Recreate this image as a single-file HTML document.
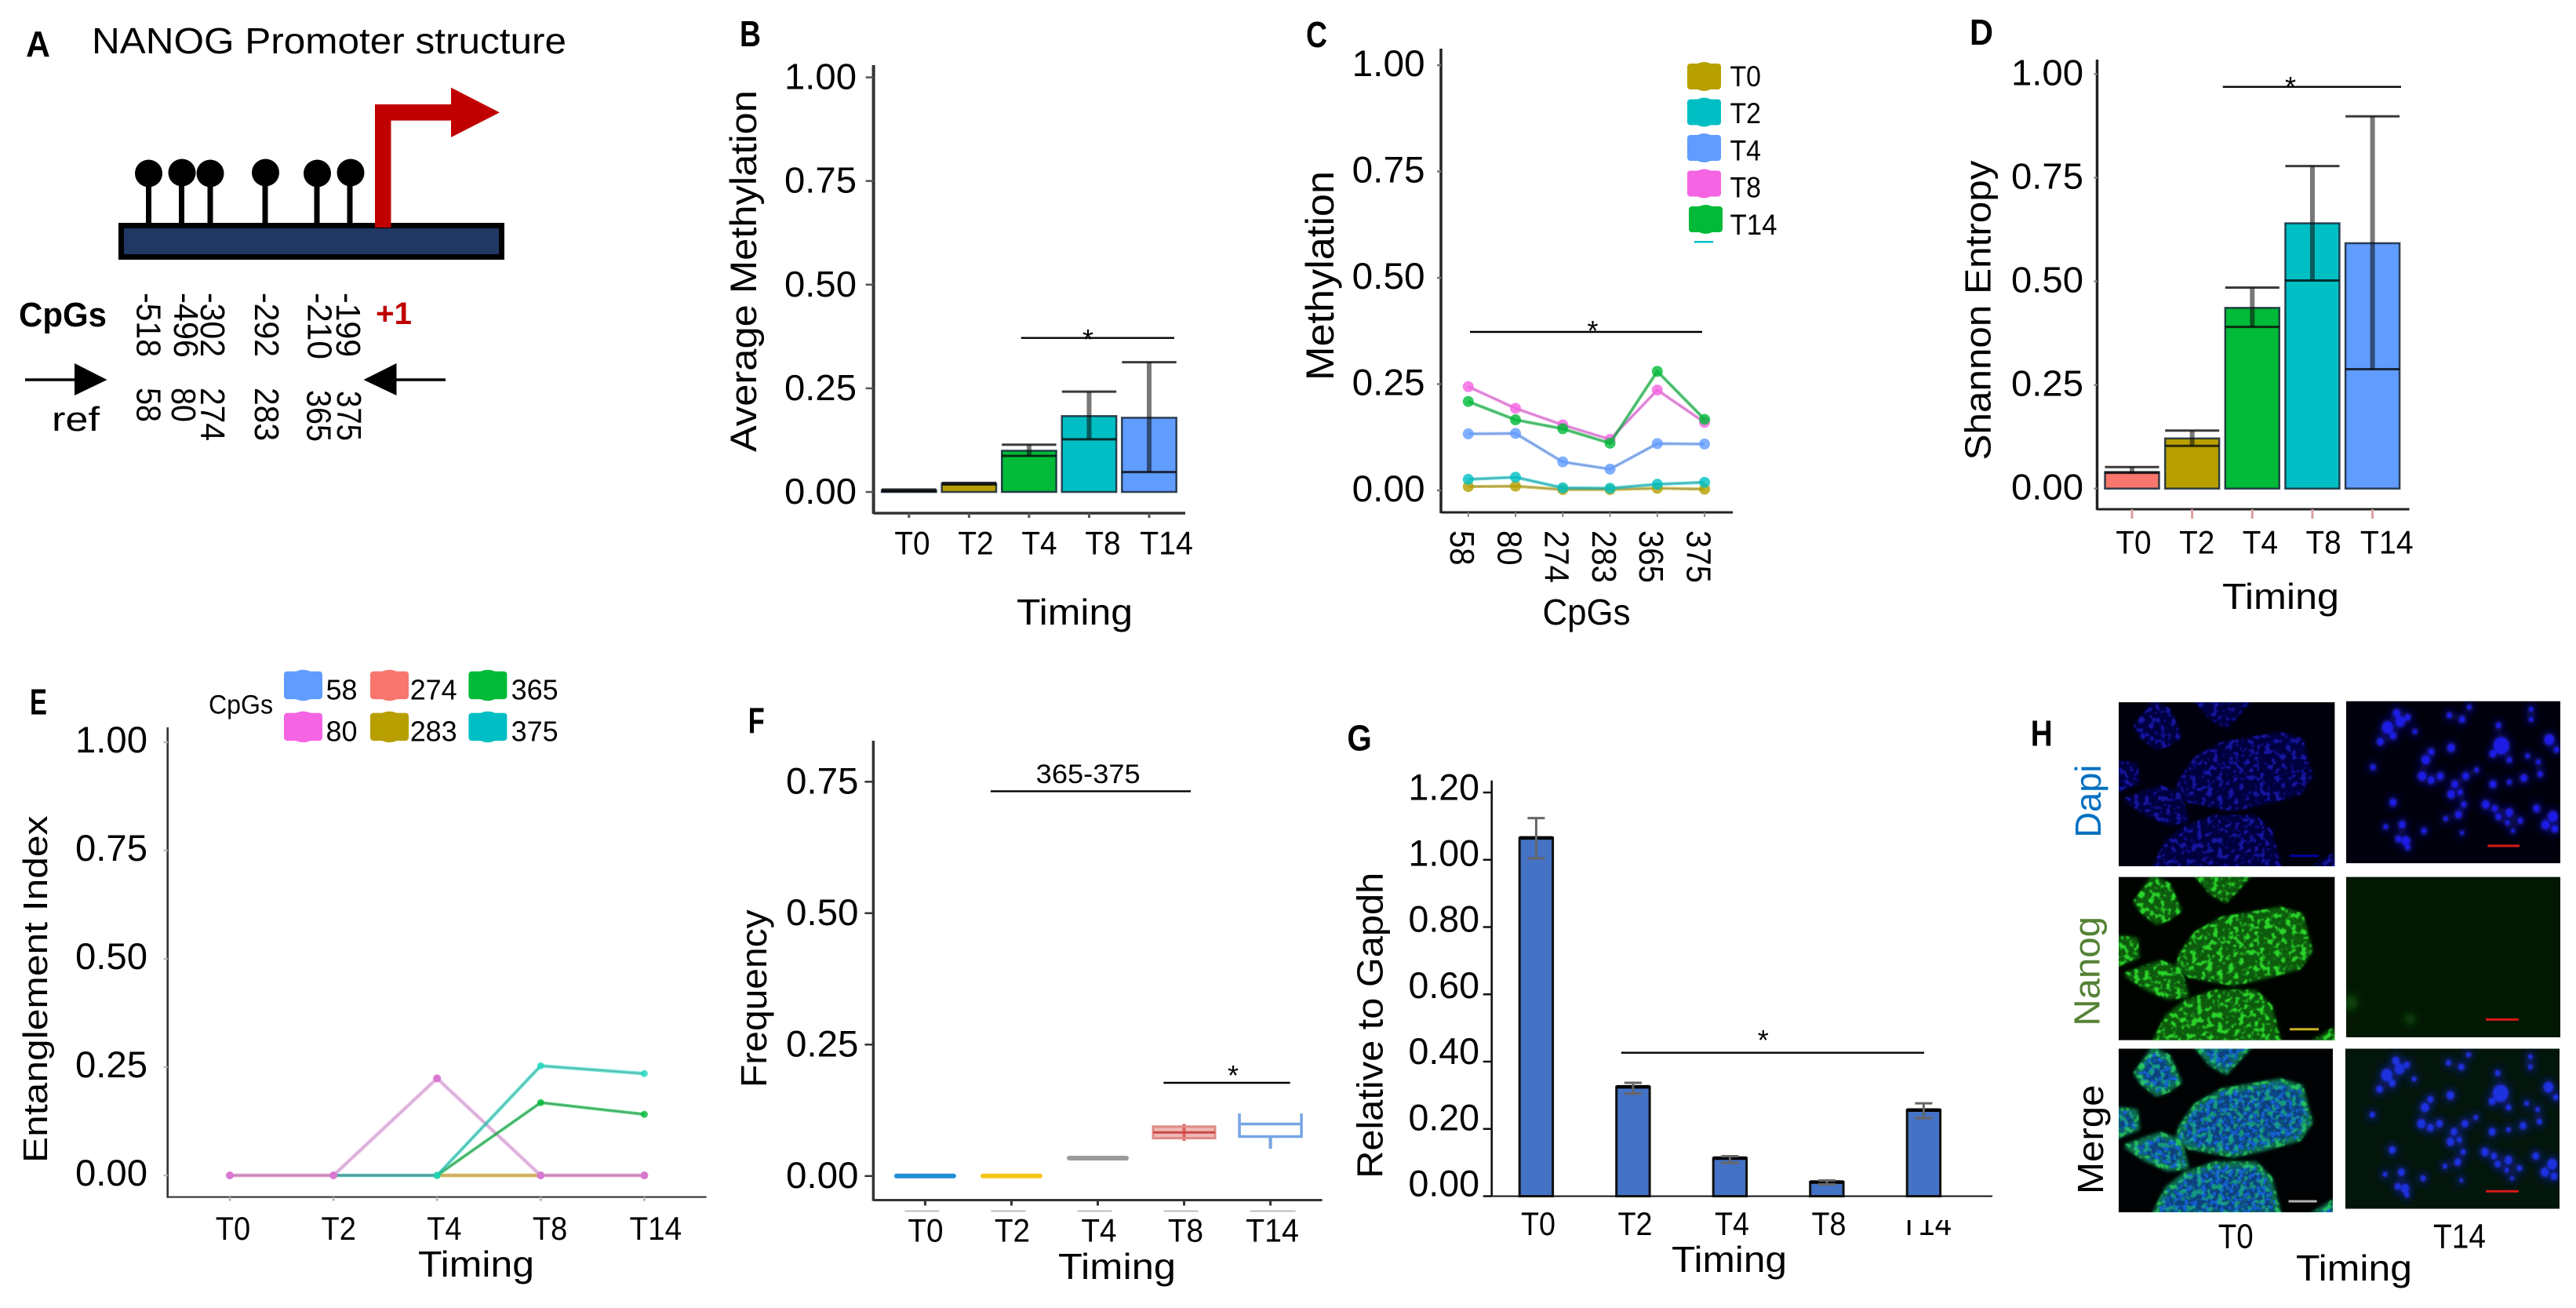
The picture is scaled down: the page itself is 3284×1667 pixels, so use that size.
<!DOCTYPE html>
<html lang="en">
<head>
<meta charset="utf-8">
<title>NANOG promoter methylation figure</title>
<style>
html,body{margin:0;padding:0;background:#fff;width:3284px;height:1667px;overflow:hidden}
svg{display:block}
text{font-family:"Liberation Sans",sans-serif;fill:#000}
.pl{font-weight:bold;font-size:46px}
</style>
</head>
<body>
<svg id="fig" xmlns="http://www.w3.org/2000/svg" width="3284" height="1667" viewBox="0 0 3284 1667">
<defs>
  <filter id="cells" filterUnits="userSpaceOnUse" x="-10" y="-10" width="320" height="250">
    <feTurbulence type="fractalNoise" baseFrequency="0.15" numOctaves="2" seed="4" result="n"/>
    <feColorMatrix in="n" type="matrix" values="0 0 0 0 0  0 0 0 0 0  0 0 0 0 0  8 0 0 0 -4.1" result="m"/>
    <feComposite in="SourceGraphic" in2="m" operator="in" result="c"/>
    <feGaussianBlur in="c" stdDeviation="0.7"/>
  </filter>
  <filter id="cells2" filterUnits="userSpaceOnUse" x="-10" y="-10" width="320" height="250">
    <feTurbulence type="fractalNoise" baseFrequency="0.17" numOctaves="2" seed="9" result="n"/>
    <feColorMatrix in="n" type="matrix" values="0 0 0 0 0  0 0 0 0 0  0 0 0 0 0  8 0 0 0 -3.9" result="m"/>
    <feComposite in="SourceGraphic" in2="m" operator="in" result="c"/>
    <feGaussianBlur in="c" stdDeviation="0.6"/>
  </filter>
  <filter id="edge" filterUnits="userSpaceOnUse" x="-10" y="-10" width="320" height="250"><feGaussianBlur stdDeviation="2"/></filter>
  <filter id="soft" x="-5%" y="-5%" width="110%" height="110%"><feGaussianBlur stdDeviation="2.2"/></filter>
  <filter id="haze" x="-5%" y="-5%" width="110%" height="110%"><feGaussianBlur stdDeviation="9"/></filter>
  <filter id="glow" x="-100%" y="-100%" width="300%" height="300%"><feGaussianBlur stdDeviation="5"/></filter>
  <path id="colonies" stroke-linejoin="round" stroke-width="8" d="M23 31.5L44 2L62.5 11L76.4 42L62.5 52L48.6 57L30 42ZM99.6 -4L166.7 -4L136.6 29L118 18.6ZM-4 78L21 80.5L23 101L-4 111.5ZM81 98.6L99.6 72.8L132 54.7L206 41.8L231.7 49.6L243.3 93.5L229.4 114L183 127L146 134.8L90.3 124.5L76.4 114ZM11.6 124.4L53.3 110L76.4 119L85.7 150L62.5 152.5L34.7 139.9ZM46 212L62.5 178.6L85.7 160.6L122.8 147.7L173.7 147.7L192 165.7L204 212ZM248 212L273 196.7L280 212Z"/>
  <clipPath id="clip-g-t14"><rect x="2420" y="1555" width="90" height="40"/></clipPath>
</defs>

<!-- Panel A -->
<g id="panel-a">
  <text class="pl" x="33" y="72" textLength="31" lengthAdjust="spacingAndGlyphs">A</text>
  <text x="117" y="68" font-size="46" textLength="605" lengthAdjust="spacingAndGlyphs">NANOG Promoter structure</text>
  <g>
    <g stroke="#000" stroke-width="7">
      <line x1="189.5" y1="225" x2="189.5" y2="286"/>
      <line x1="231.5" y1="225" x2="231.5" y2="286"/>
      <line x1="268" y1="225" x2="268" y2="286"/>
      <line x1="338" y1="225" x2="338" y2="286"/>
      <line x1="404" y1="225" x2="404" y2="286"/>
      <line x1="446" y1="225" x2="446" y2="286"/>
    </g>
    <circle cx="189.5" cy="221" r="17.5"/>
    <circle cx="232" cy="220" r="17.5"/>
    <circle cx="268" cy="221" r="17.5"/>
    <circle cx="338.5" cy="220" r="17.5"/>
    <circle cx="404.5" cy="221" r="17.5"/>
    <circle cx="447" cy="220" r="17.5"/>
  </g>
  <rect x="154.5" y="287.5" width="485" height="40" fill="#1f3864" stroke="#000" stroke-width="7"/>
  <path d="M478 290V133H575V111.6L637 143.4L575 175V153.6H498.5V290Z" fill="#c00000"/>
  <text x="24" y="416" font-size="44" font-weight="bold" textLength="112" lengthAdjust="spacingAndGlyphs">CpGs</text>
  <text x="479" y="413" font-size="40" font-weight="bold" style="fill:#c00000" textLength="46" lengthAdjust="spacingAndGlyphs">+1</text>
  <g font-size="44">
    <text transform="translate(174.5,373) rotate(90)" textLength="82" lengthAdjust="spacingAndGlyphs">-518</text>
    <text transform="translate(222,373) rotate(90)" textLength="83" lengthAdjust="spacingAndGlyphs">-496</text>
    <text transform="translate(256,373) rotate(90)" textLength="82" lengthAdjust="spacingAndGlyphs">-302</text>
    <text transform="translate(325,373) rotate(90)" textLength="82" lengthAdjust="spacingAndGlyphs">-292</text>
    <text transform="translate(392.6,373) rotate(90)" textLength="85" lengthAdjust="spacingAndGlyphs">-210</text>
    <text transform="translate(429,373) rotate(90)" textLength="82" lengthAdjust="spacingAndGlyphs">-199</text>
  </g>
  <g font-size="44">
    <text transform="translate(174.5,494) rotate(90)" textLength="44" lengthAdjust="spacingAndGlyphs">58</text>
    <text transform="translate(219,494) rotate(90)" textLength="44" lengthAdjust="spacingAndGlyphs">80</text>
    <text transform="translate(256,494) rotate(90)" textLength="68" lengthAdjust="spacingAndGlyphs">274</text>
    <text transform="translate(325,494) rotate(90)" textLength="68" lengthAdjust="spacingAndGlyphs">283</text>
    <text transform="translate(391.5,497) rotate(90)" textLength="66" lengthAdjust="spacingAndGlyphs">365</text>
    <text transform="translate(430,498) rotate(90)" textLength="64" lengthAdjust="spacingAndGlyphs">375</text>
  </g>
  <path d="M32 482.2H95V463L136.5 484L95 504V485.8H32Z"/>
  <path d="M568 482.2H505.5V463L463.5 484L505.5 504V485.8H568Z"/>
  <text x="66" y="549" font-size="44" textLength="61" lengthAdjust="spacingAndGlyphs">ref</text>
</g>

<!-- Panel labels and titles for charts -->
<text class="pl" x="943" y="59" textLength="27" lengthAdjust="spacingAndGlyphs">B</text>
<text transform="translate(964,576) rotate(-90)" font-size="47" textLength="461" lengthAdjust="spacingAndGlyphs">Average Methylation</text>
<text x="1296" y="796" font-size="46" textLength="148" lengthAdjust="spacingAndGlyphs">Timing</text>

<text class="pl" x="1665" y="60" textLength="27" lengthAdjust="spacingAndGlyphs">C</text>
<text transform="translate(1700,485) rotate(-90)" font-size="50" textLength="267" lengthAdjust="spacingAndGlyphs">Methylation</text>
<text x="1966.5" y="796" font-size="46" textLength="112" lengthAdjust="spacingAndGlyphs">CpGs</text>

<text class="pl" x="2511" y="57" textLength="30" lengthAdjust="spacingAndGlyphs">D</text>
<text transform="translate(2537.5,586.5) rotate(-90)" font-size="46" textLength="382" lengthAdjust="spacingAndGlyphs">Shannon Entropy</text>
<text x="2833" y="776" font-size="46" textLength="149" lengthAdjust="spacingAndGlyphs">Timing</text>

<text class="pl" x="38" y="910.5" textLength="22" lengthAdjust="spacingAndGlyphs">E</text>
<text transform="translate(60,1482) rotate(-90)" font-size="44" textLength="442.5" lengthAdjust="spacingAndGlyphs">Entanglement Index</text>
<text x="533" y="1627" font-size="46" textLength="148" lengthAdjust="spacingAndGlyphs">Timing</text>
<text x="266" y="909.4" font-size="34" textLength="82" lengthAdjust="spacingAndGlyphs">CpGs</text>

<text class="pl" x="953.7" y="934" textLength="21" lengthAdjust="spacingAndGlyphs">F</text>
<text transform="translate(976.8,1386) rotate(-90)" font-size="46" textLength="226.6" lengthAdjust="spacingAndGlyphs">Frequency</text>
<text x="1349" y="1630" font-size="46" textLength="150" lengthAdjust="spacingAndGlyphs">Timing</text>
<text x="1320.7" y="998" font-size="34" textLength="133" lengthAdjust="spacingAndGlyphs">365-375</text>

<text class="pl" x="1717.4" y="956.5" textLength="31.4" lengthAdjust="spacingAndGlyphs">G</text>
<text transform="translate(1762.5,1501.8) rotate(-90)" font-size="46" textLength="390" lengthAdjust="spacingAndGlyphs">Relative to Gapdh</text>
<text x="2131" y="1621" font-size="46" textLength="147" lengthAdjust="spacingAndGlyphs">Timing</text>

<!-- Panel H -->
<g id="panel-h">
  <text class="pl" x="2588.7" y="950.4" textLength="28" lengthAdjust="spacingAndGlyphs">H</text>

  <svg x="2701" y="895" width="275.4" height="209">
    <rect width="276" height="209" fill="#00000c"/>
    <use href="#colonies" fill="#04043c" stroke="#04043c" filter="url(#edge)"/>
    <use href="#colonies" fill="#1212a0" stroke="#1212a0" filter="url(#cells)"/>
  </svg>
  <svg x="2701" y="1117.6" width="275.4" height="208">
    <rect width="276" height="209" fill="#000300"/>
    <use href="#colonies" fill="#0a5a0a" stroke="#0a5a0a" filter="url(#edge)"/>
    <use href="#colonies" fill="#2ad62a" stroke="#2ad62a" filter="url(#cells)"/>
  </svg>
  <svg x="2701" y="1336.5" width="273" height="208.5">
    <rect width="276" height="209" fill="#000203"/>
    <use href="#colonies" fill="#0b3f7c" stroke="#0e7050" filter="url(#edge)"/>
    <use href="#colonies" fill="#1460d4" stroke="none" filter="url(#cells2)"/>
    <use href="#colonies" fill="#18b07a" stroke="#2ad860" filter="url(#cells)" opacity=".8"/>
  </svg>

  <svg x="2991" y="893.6" width="273" height="206.5">
    <rect width="274" height="208" fill="#00000c"/>
    <g transform="scale(.4632,.5163) translate(-931,-65)">
      <path class="nuclei" fill="#0a0a70" stroke="#0a0a70" stroke-width="16" filter="url(#haze)"/>
      <path class="nuclei" fill="#1f1fe6" stroke="#1f1fe6" stroke-width="3" filter="url(#soft)"/>
    </g>
  </svg>
  <svg x="2991" y="1117.6" width="273" height="204.4">
    <rect width="274" height="206" fill="#031803"/>
    <circle cx="5" cy="160" r="10" fill="#0c4a0c" filter="url(#glow)"/>
    <circle cx="81" cy="181" r="7" fill="#0c4a0c" filter="url(#glow)"/>
  </svg>
  <svg x="2990" y="1336.5" width="273" height="204">
    <rect width="274" height="206" fill="#03160c"/>
    <g transform="scale(.4632,.5163) translate(-931,-65)">
      <path class="nuclei" fill="#0a1a70" stroke="#0a1a70" stroke-width="16" filter="url(#haze)"/>
      <path class="nuclei" fill="#1c30e0" stroke="#1c30e0" stroke-width="3" filter="url(#soft)"/>
    </g>
  </svg>

  <g stroke-width="3">
    <line x1="2919" y1="1090.8" x2="2956" y2="1090.8" stroke="#0000a0"/>
    <line x1="2919" y1="1311.8" x2="2956" y2="1311.8" stroke="#c8b020"/>
    <line x1="2917.6" y1="1531" x2="2953.7" y2="1531" stroke="#b4b4b4"/>
    <line x1="3171.4" y1="1078" x2="3212" y2="1078" stroke="#d81818"/>
    <line x1="3169" y1="1299.4" x2="3210.8" y2="1299.4" stroke="#d81818"/>
    <line x1="3169" y1="1518.3" x2="3210.8" y2="1518.3" stroke="#d81818"/>
  </g>

  <text transform="translate(2678,1067.6) rotate(-90)" font-size="46" style="fill:#0070c0" textLength="93" lengthAdjust="spacingAndGlyphs">Dapi</text>
  <text transform="translate(2676.7,1307.6) rotate(-90)" font-size="46" style="fill:#548235" textLength="139.6" lengthAdjust="spacingAndGlyphs">Nanog</text>
  <text transform="translate(2681,1522) rotate(-90)" font-size="46" textLength="139.5" lengthAdjust="spacingAndGlyphs">Merge</text>
  <text x="2827.7" y="1590.6" font-size="44" textLength="45" lengthAdjust="spacingAndGlyphs">T0</text>
  <text x="3102" y="1590.6" font-size="44" textLength="67" lengthAdjust="spacingAndGlyphs">T14</text>
  <text x="2927" y="1632" font-size="46" textLength="148" lengthAdjust="spacingAndGlyphs">Timing</text>
</g>
</svg>

<script>
// ---- Chart data ----
const timing = ['T0', 'T2', 'T4', 'T8', 'T14'];
const cpgs = ['58', '80', '274', '283', '365', '375'];
const ticksUnit = [0, 0.25, 0.5, 0.75, 1];
const ticksFreq = [0, 0.25, 0.5, 0.75];
const ticksGapdh = [0, 0.2, 0.4, 0.6, 0.8, 1, 1.2];

// Panel B: average methylation
const barB = [0.004, 0.02, 0.0995, 0.183, 0.179];
const upperB = [0.006, 0.022, 0.114, 0.242, 0.313];
const lowerB = [0.002, 0.018, 0.087, 0.127, 0.048];

// Panel C: methylation by CpG
const methT0 = [0.009, 0.01, 0.002, 0.002, 0.005, 0.003];
const methT2 = [0.026, 0.031, 0.006, 0.005, 0.0145, 0.019];
const methT4 = [0.133, 0.134, 0.067, 0.05, 0.11, 0.109];
const methT8 = [0.244, 0.193, 0.154, 0.12, 0.236, 0.16];
const methT14 = [0.209, 0.166, 0.145, 0.111, 0.28, 0.167];

// Panel D: Shannon entropy
const barD = [0.04, 0.121, 0.436, 0.64, 0.592];
const upperD = [0.052, 0.14, 0.485, 0.778, 0.898];
const lowerD = [0.038, 0.103, 0.39, 0.502, 0.288];

// Panel E: entanglement index
const ent58 = [0, 0, 0, 0, 0];
const ent274 = [0, 0, 0, 0, 0];
const ent80 = [0, 0, 0.224, 0, 0];
const ent283 = [null, null, 0, 0, null];
const ent365 = [null, null, 0, 0.168, 0.141];
const ent375 = [null, 0, 0, 0.253, 0.235];

// Panel F: frequency boxes
const boxMedianF = [0, 0, 0.034, 0.083, 0.099];
const boxLowF = [0, 0, 0.034, 0.072, 0.075];
const boxHighF = [0, 0, 0.034, 0.094, 0.119];
const whiskerLowF = [0, 0, 0.034, 0.067, 0.052];
const whiskerHighF = [0, 0, 0.034, 0.099, 0.119];

// Panel G: relative expression
const barG = [1.065, 0.325, 0.113, 0.042, 0.256];
const upperG = [1.124, 0.337, 0.119, 0.047, 0.276];
const lowerG = [1.004, 0.305, 0.099, 0.035, 0.232];

// ---- Drawing helpers ----
const NS = 'http://www.w3.org/2000/svg';
const fig = document.getElementById('fig');
const OLIVE = '#b79f00', TEAL = '#00bfc4', BLUE = '#619cff', PINK = '#f564e3', GREEN = '#00ba38', SALMON = '#f8766d';

function mk(tag, parent, props, name) {
  const el = document.createElementNS(NS, tag);
  for (const k in props) el.setAttribute(k, props[k]);
  
  
  parent.appendChild(el);
  return el;
}
function label(parent, str, x, y, size, len, name) {
  const t = mk('text', parent, { x: x, y: y, 'font-size': size, textLength: len, lengthAdjust: 'spacingAndGlyphs' }, name);
  t.textContent = str;
  return t;
}
function yOf(p, v) { return p.y0 - v * p.ySpan; }
function xOf(p, i) { return p.x0 + i * p.step; }

function axes(p, ticks) {
  const g = mk('g', fig, {}, 'axes-' + p.id);
  mk('line', g, { x1: p.axisX, y1: p.axisTop, x2: p.axisX, y2: p.axisY + 1, stroke: p.axisColor, 'stroke-width': p.axisW }, 'y-axis-' + p.id);
  mk('line', g, { x1: p.axisX, y1: p.axisY, x2: p.axisRight, y2: p.axisY, stroke: p.axisColor, 'stroke-width': p.axisW - 0.5 }, 'x-axis-' + p.id);
  ticks.forEach(function (v) {
    const y = yOf(p, v);
    mk('line', g, { x1: p.axisX - p.tickLen, y1: y, x2: p.axisX, y2: y, stroke: p.tickColor, 'stroke-width': 2.5 }, 'y-tick-' + p.id);
    const ly = p.labelSpan ? p.labelY0 - v * p.labelSpan : y + p.labelOff;
    label(g, v.toFixed(2), p.labelRight - p.labelW, ly, p.labelSize, p.labelW, 'y-tick-label-' + p.id);
  });
}
function xLabels(p, names) {
  const g = mk('g', fig, {}, 'x-labels-' + p.id);
  names.forEach(function (s, i) {
    const w = p.charW * s.length;
    const t = label(g, s, p.lblX0 + i * p.lblStep - w / 2, p.lblY, p.lblSize, w, 'x-tick-label-' + p.id);
    if (p.id === 'g' && s === 'T14') t.setAttribute('clip-path', 'url(#clip-g-t14)');
    if (p.tickDown) {
      const x = xOf(p, i);
      mk('line', g, { x1: x, y1: p.axisY, x2: x, y2: p.axisY + p.tickDown, stroke: p.tickDownColor || p.tickColor, 'stroke-width': 3 }, 'x-tick-' + p.id);
    }
  });
}
function sig(x1, x2, y, starX, starY) {
  const g = mk('g', fig, {}, 'significance-bracket');
  mk('line', g, { x1: x1, y1: y, x2: x2, y2: y, stroke: '#000', 'stroke-width': 2.4 }, 'significance-line');
  if (starX !== null) {
    const t = mk('text', g, { x: starX, y: starY + 20, 'font-size': 36, 'text-anchor': 'middle' }, 'significance-star');
    t.textContent = '*';
  }
}
function ggBars(p, vals, up, lo, cols) {
  const g = mk('g', fig, {}, 'bars-' + p.id);
  vals.forEach(function (v, i) {
    const x = xOf(p, i) - p.barW / 2, top = yOf(p, v), base = yOf(p, 0);
    mk('rect', g, { x: x, y: top, width: p.barW, height: Math.max(base - top, 1), fill: cols[i], stroke: 'rgba(20,40,55,.85)', 'stroke-width': 2.5 }, 'bar-' + timing[i].toLowerCase());
    const cx = xOf(p, i);
    mk('line', g, { x1: cx, y1: yOf(p, up[i]), x2: cx, y2: yOf(p, lo[i]), stroke: 'rgba(10,10,10,.55)', 'stroke-width': 6 }, 'error-stem-' + timing[i].toLowerCase());
    [up[i], lo[i]].forEach(function (e) {
      mk('line', g, { x1: x, y1: yOf(p, e), x2: x + p.barW, y2: yOf(p, e), stroke: 'rgba(10,10,10,.8)', 'stroke-width': 3 }, 'error-cap-' + timing[i].toLowerCase());
    });
  });
}
function lineSeries(p, vals, color, name, lw, r, coreAlpha) {
  const g = mk('g', fig, {}, 'series-' + name);
  let d = '', pen = false;
  vals.forEach(function (v, i) {
    if (v === null) { pen = false; return; }
    d += (pen ? 'L' : 'M') + xOf(p, i) + ' ' + yOf(p, v);
    pen = true;
  });
  mk('path', g, { d: d, fill: 'none', stroke: color, 'stroke-width': lw, 'stroke-linejoin': 'round', opacity: 0.65 }, 'line-' + name);
  mk('path', g, { d: d, fill: 'none', stroke: 'rgba(40,50,60,' + coreAlpha + ')', 'stroke-width': 1.4 }, 'line-core-' + name);
  vals.forEach(function (v, i) {
    if (v === null) return;
    mk('circle', g, { cx: xOf(p, i), cy: yOf(p, v), r: r, fill: color, opacity: 0.8 }, 'point-' + name);
  });
}
function swatch(parent, x, y, w, h, color, name) {
  mk('rect', parent, { x: x, y: y + 2, width: w, height: h - 4, rx: 4, fill: color }, 'legend-swatch-' + name);
  mk('ellipse', parent, { cx: x + w / 2, cy: y + h / 2, rx: w / 2 - 4, ry: h / 2, fill: color }, 'legend-swatch-edge-' + name);
}

// ---- Panel B ----
const pB = { id: 'b', x0: 1158.8, step: 76.55, barW: 69.4, y0: 627, ySpan: 528.4, axisX: 1113.6, axisTop: 83, axisY: 654, axisRight: 1511, axisW: 4, axisColor: '#333', tickLen: 10, tickColor: '#555', labelRight: 1092, labelW: 92, labelSize: 46, labelOff: 15, lblX0: 1163, lblStep: 81, lblY: 706.6, lblSize: 42, charW: 22.6, tickDown: 6 };
axes(pB, ticksUnit);
xLabels(pB, timing);
ggBars(pB, barB, upperB, lowerB, ['#5a2222', OLIVE, GREEN, TEAL, BLUE]);
sig(1301.7, 1497, 430.7, 1387, 425);

// ---- Panel C ----
const pC = { id: 'c', x0: 1871.8, step: 60.25, y0: 625, ySpan: 542, axisX: 1837, axisTop: 62, axisY: 653, axisRight: 2209, axisW: 3.5, axisColor: '#222', tickLen: 5, tickColor: '#777', labelRight: 1816.6, labelW: 93, labelSize: 47, labelOff: 14 };
axes(pC, ticksUnit);
const cAx = mk('g', fig, {}, 'x-labels-c');
cpgs.forEach(function (s, i) {
  const t = mk('text', cAx, { transform: 'translate(' + (1849 + i * 60.3) + ',' + 676 + ') rotate(90)', 'font-size': 44, textLength: s.length * 22.3, lengthAdjust: 'spacingAndGlyphs' }, 'x-tick-label-c');
  t.textContent = s;
  mk('line', cAx, { x1: xOf(pC, i), y1: 653, x2: xOf(pC, i), y2: 659, stroke: '#888', 'stroke-width': 2 }, 'x-tick-c');
});
lineSeries(pC, methT0, OLIVE, 't0', 4, 7, 0.25);
lineSeries(pC, methT2, TEAL, 't2', 4, 7, 0.25);
lineSeries(pC, methT4, BLUE, 't4', 4, 7, 0.25);
lineSeries(pC, methT8, PINK, 't8', 4, 7, 0.25);
lineSeries(pC, methT14, GREEN, 't14', 4, 7, 0.25);
sig(1874, 2170, 423, 2030.5, 414);
const legC = mk('g', fig, {}, 'legend-c');
const legCColors = [OLIVE, TEAL, BLUE, PINK, GREEN];
timing.forEach(function (s, i) {
  swatch(legC, i === 4 ? 2153 : 2151, 79 + i * 45.5, 43, 37, legCColors[i], s.toLowerCase());
  label(legC, s, 2205.5, 110 + i * 47.2, 37, s.length === 3 ? 60 : 39.5, 'legend-entry-c');
});
mk('rect', legC, { x: 2160, y: 307, width: 24, height: 2.5, fill: TEAL }, 'legend-clipped-swatch');

// ---- Panel D ----
const pD = { id: 'd', x0: 2718, step: 76.65, barW: 69, y0: 622.7, ySpan: 528.3, axisX: 2673.5, axisTop: 76, axisY: 649, axisRight: 3071.6, axisW: 3.5, axisColor: '#222', tickLen: 4, tickColor: '#888', labelRight: 2656, labelW: 92, labelSize: 46, labelOff: 14, lblX0: 2720, lblStep: 80.7, lblY: 705.6, lblSize: 42, charW: 22.6, tickDown: 12, tickDownColor: '#dba0a0' };
axes(pD, ticksUnit);
xLabels(pD, timing);
ggBars(pD, barD, upperD, lowerD, [SALMON, OLIVE, GREEN, TEAL, BLUE]);
sig(2833.8, 3061, 110.7, 2920, 103);

// ---- Panel E ----
const pE = { id: 'e', x0: 293, step: 132.1, y0: 1498, ySpan: 552, axisX: 213.7, axisTop: 927, axisY: 1525.6, axisRight: 900.6, axisW: 2.6, axisColor: '#333', tickLen: 5, tickColor: '#bbb', labelRight: 188, labelW: 92, labelSize: 47, labelOff: 13, lblX0: 297, lblStep: 134.7, lblY: 1580, lblSize: 42, charW: 22.2, tickDown: 5 };
axes(pE, ticksUnit);
xLabels(pE, timing);
lineSeries(pE, ent58, BLUE, 'cpg-58', 4, 4.5, 0);
lineSeries(pE, ent274, SALMON, 'cpg-274', 4, 4.5, 0);
lineSeries(pE, ent80, '#e6a4e2', 'cpg-80', 5, 4.5, 0.2);
lineSeries(pE, ent283, '#d6c84a', 'cpg-283', 5, 4, 0.05);
lineSeries(pE, ent365, GREEN, 'cpg-365', 4, 4.5, 0.3);
lineSeries(pE, ent375, '#1ed8c0', 'cpg-375', 4.5, 4.5, 0.3);
const topPoints = mk('g', fig, {}, 'series-cpg-80-points');
ent80.forEach(function (v, i) {
  if (i === 2) return;
  mk('circle', topPoints, { cx: xOf(pE, i), cy: yOf(pE, v), r: 5, fill: '#d878d0' }, 'point-cpg-80');
});
mk('circle', topPoints, { cx: xOf(pE, 2), cy: yOf(pE, ent80[2]), r: 5, fill: '#d878d0' }, 'point-cpg-80');
const legE = mk('g', fig, {}, 'legend-e');
const legENames = ['58', '80', '274', '283', '365', '375'];
const legEColors = [BLUE, PINK, SALMON, OLIVE, GREEN, TEAL];
const legEColX = [362, 472, 597.4], legETxtX = [415.5, 522.7, 651.6];
legENames.forEach(function (s, i) {
  const col = Math.floor(i / 2), row = i % 2;
  swatch(legE, legEColX[col], 853.6 + row * 53, 49, 39.5, legEColors[i], s);
  label(legE, s, legETxtX[col], 891.5 + row * 53, 36, s.length * 20, 'legend-entry-e');
});

// ---- Panel F ----
const pF = { id: 'f', x0: 1179.4, step: 110.05, barW: 79, y0: 1498.8, ySpan: 670, axisX: 1113.4, axisTop: 944, axisY: 1529.5, axisRight: 1685.6, axisW: 3.5, axisColor: '#333', tickLen: 11, tickColor: '#333', labelRight: 1094.5, labelW: 92.5, labelSize: 47, labelOff: 15, lblX0: 1180, lblStep: 110.5, lblY: 1582.4, lblSize: 42, charW: 22.6, tickDown: 7 };
axes(pF, ticksFreq);
xLabels(pF, timing);
const boxColors = ['#1f8fd8', '#f5c518', '#9a9a9a', '#d9605a', '#76a5e2'];
const boxG = mk('g', fig, {}, 'boxes-f');
timing.forEach(function (s, i) {
  const cx = xOf(pF, i), x = cx - pF.barW / 2;
  const tag = s.toLowerCase();
  mk('line', boxG, { x1: cx, y1: yOf(pF, whiskerHighF[i]), x2: cx, y2: yOf(pF, whiskerLowF[i]), stroke: boxColors[i], 'stroke-width': 4 }, 'box-whisker-' + tag);
  if (i < 3) {
    mk('rect', boxG, { x: x, y: yOf(pF, boxMedianF[i]) - 3, width: pF.barW, height: 6, rx: 3, fill: boxColors[i] }, 'box-' + tag);
  } else if (i === 3) {
    mk('rect', boxG, { x: x, y: yOf(pF, boxHighF[i]), width: pF.barW, height: yOf(pF, boxLowF[i]) - yOf(pF, boxHighF[i]), fill: 'rgba(217,96,90,.45)', stroke: '#e08a85', 'stroke-width': 3 }, 'box-' + tag);
    mk('line', boxG, { x1: x, y1: yOf(pF, boxMedianF[i]), x2: x + pF.barW, y2: yOf(pF, boxMedianF[i]), stroke: '#cc4a45', 'stroke-width': 3 }, 'box-median-' + tag);
  } else {
    const a = yOf(pF, boxHighF[i]), b = yOf(pF, boxLowF[i]);
    mk('path', boxG, { d: 'M' + x + ' ' + a + 'V' + b + 'H' + (x + pF.barW) + 'V' + a, fill: '#fff', stroke: boxColors[i], 'stroke-width': 3.5 }, 'box-' + tag);
    mk('line', boxG, { x1: x, y1: yOf(pF, boxMedianF[i]), x2: x + pF.barW, y2: yOf(pF, boxMedianF[i]), stroke: boxColors[i], 'stroke-width': 3.5 }, 'box-median-' + tag);
    mk('line', boxG, { x1: cx, y1: b, x2: cx, y2: yOf(pF, whiskerLowF[i]), stroke: boxColors[i], 'stroke-width': 4 }, 'box-whisker-lower-' + tag);
  }
  mk('line', boxG, { x1: cx - 26, y1: 1543.5, x2: cx + 18 + (i === 4 ? 14 : 0), y2: 1543.5, stroke: '#aaa', 'stroke-width': 1.6 }, 'clipped-label-remnant');
});
sig(1262.9, 1518, 1008.4, null, 0);
sig(1483.4, 1644.7, 1380, 1572, 1363);

// ---- Panel G ----
const pG = { id: 'g', x0: 1958.4, step: 123.5, barW: 42.4, y0: 1524.5, ySpan: 428.75, axisX: 1901.7, axisTop: 994.8, axisY: 1524.5, axisRight: 2540, axisW: 2.6, axisColor: '#111', tickLen: 11, tickColor: '#111', labelRight: 1886, labelW: 90.5, labelSize: 47, labelY0: 1524.5, labelSpan: 421, lblX0: 1961, lblStep: 123.5, lblY: 1573.8, lblSize: 42, charW: 22 };
axes(pG, ticksGapdh);
xLabels(pG, timing);
const barsG = mk('g', fig, {}, 'bars-g');
barG.forEach(function (v, i) {
  const cx = xOf(pG, i), tag = timing[i].toLowerCase();
  const top = yOf(pG, v), base = yOf(pG, 0);
  mk('rect', barsG, { x: cx - pG.barW / 2, y: top, width: pG.barW, height: base - top, fill: '#4472c4', stroke: '#111', 'stroke-width': 3 }, 'bar-' + tag);
  mk('line', barsG, { x1: cx - pG.barW / 2, y1: top, x2: cx + pG.barW / 2, y2: top, stroke: '#000', 'stroke-width': 4.5 }, 'bar-top-' + tag);
  mk('line', barsG, { x1: cx, y1: yOf(pG, upperG[i]), x2: cx, y2: yOf(pG, lowerG[i]), stroke: '#666', 'stroke-width': 3 }, 'error-stem-' + tag);
  [upperG[i], lowerG[i]].forEach(function (e) {
    mk('line', barsG, { x1: cx - 11, y1: yOf(pG, e), x2: cx + 11, y2: yOf(pG, e), stroke: '#666', 'stroke-width': 3 }, 'error-cap-' + tag);
  });
});
sig(2066.8, 2453, 1341.7, 2247.8, 1318);

// ---- Panel H nuclei (decorative micrograph texture, coordinates in a shared image frame) ----
const nuclei = [[1070,95,9],[1045,130,14],[1080,115,12],[1025,165,8],[1060,150,8],[1100,105,7],[1120,140,5],[1215,100,6],[1250,110,7],[1270,80,5],[1350,125,6],[1440,85,5],[1358,175,20],[1335,195,8],[1490,160,12],[1510,185,6],[1440,110,5],[1165,190,7],[1150,210,10],[1220,180,9],[1140,250,10],[1165,260,8],[1190,250,8],[1230,270,8],[1220,295,9],[1245,290,6],[1260,250,8],[1335,270,8],[1290,235,5],[1380,210,6],[1430,200,5],[1460,215,5],[1420,255,8],[1465,245,6],[1380,265,5],[1060,315,8],[1005,228,6],[1255,320,6],[1240,345,8],[1315,320,9],[1340,330,7],[1380,340,9],[1350,350,7],[1410,360,6],[1375,365,5],[1455,330,8],[1500,350,12],[1480,370,10],[1505,380,8],[1085,370,8],[1040,375,5],[1145,385,6],[1205,355,5],[1095,410,10],[1075,405,7],[1100,425,6],[1250,390,4],[1390,385,4]];
const nucleiPath = nuclei.map(function (n) {
  return 'M' + (n[0] - n[2]) + ' ' + n[1] + 'a' + n[2] + ' ' + n[2] + ' 0 1 0 ' + (2 * n[2]) + ' 0a' + n[2] + ' ' + n[2] + ' 0 1 0 ' + (-2 * n[2]) + ' 0';
}).join('');
document.querySelectorAll('.nuclei').forEach(function (el) { el.setAttribute('d', nucleiPath); });
</script>
</body>
</html>
